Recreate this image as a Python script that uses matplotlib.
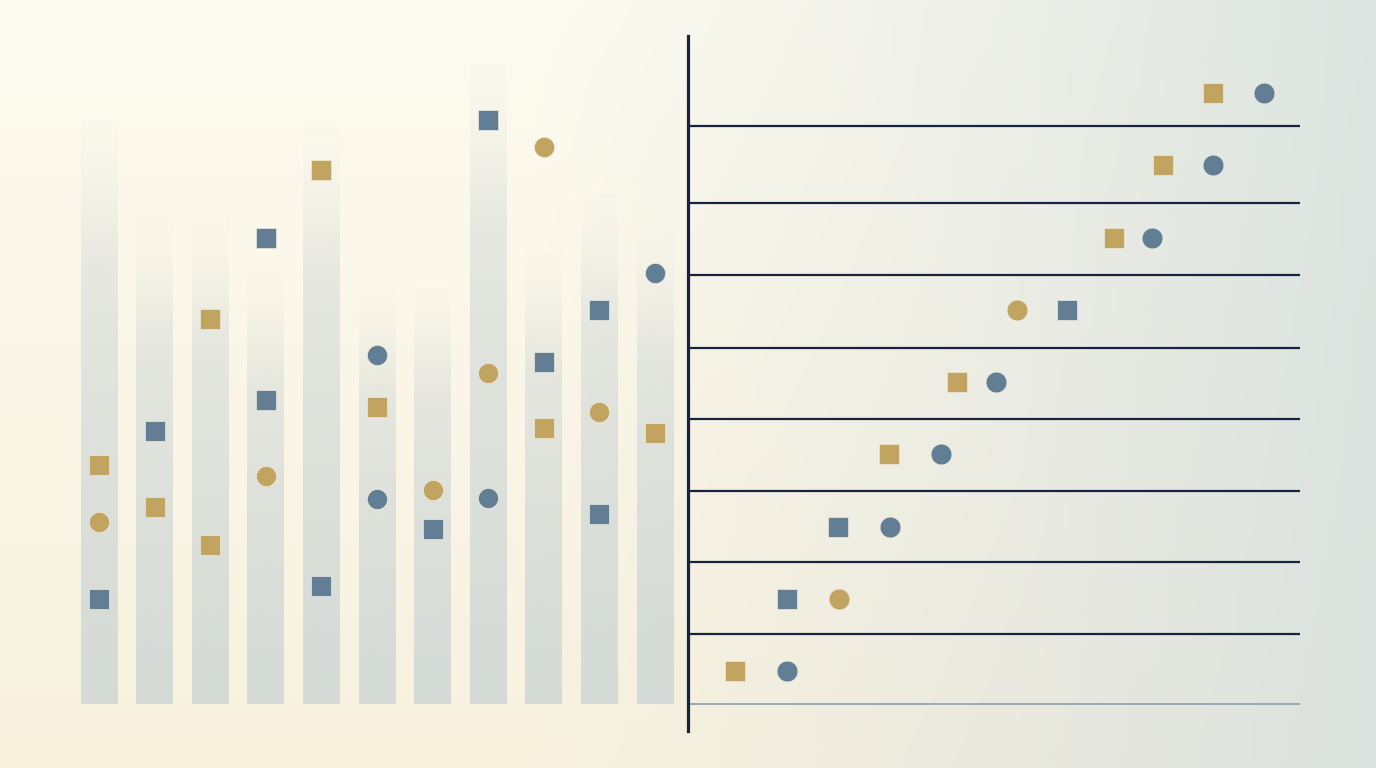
import numpy as np
import matplotlib
matplotlib.use("Agg")
import matplotlib.pyplot as plt

# ---------------- data ----------------
# Left panel: 11 faded columns with scattered markers
left_categories = list(range(11))
left_bar_heights = [88, 73.2, 73.3, 64.8, 86.9, 62.2, 62.8, 96.7, 68.1, 76.8, 70.6]

left_gold_square_cat = [0, 1, 2, 2, 4, 5, 8, 10]
left_gold_square_val = [36.0, 29.7, 58.0, 23.9, 80.4, 44.7, 41.6, 40.8]
left_gold_circle_cat = [0, 3, 6, 7, 8, 9]
left_gold_circle_val = [27.4, 34.3, 32.2, 49.8, 83.9, 44.0]
left_blue_square_cat = [0, 1, 3, 3, 4, 6, 7, 8, 9, 9]
left_blue_square_val = [15.8, 41.1, 70.2, 45.8, 17.8, 26.4, 88.0, 51.5, 59.3, 28.6]
left_blue_circle_cat = [5, 5, 7, 10]
left_blue_circle_val = [52.6, 30.9, 31.0, 64.9]

# Right panel: 9 rows (0 = bottom), two markers per row
right_rows = list(range(9))
right_separators = [0.51, 1.51, 2.49, 3.49, 4.47, 5.48, 6.48, 7.54]
right_baseline = -0.45
right_gold_square_row = [8, 7, 6, 4, 3, 0]
right_gold_square_val = [85.8, 77.6, 69.6, 44.0, 32.8, 7.7]
right_gold_circle_row = [5, 1]
right_gold_circle_val = [53.8, 24.7]
right_blue_square_row = [5, 2, 1]
right_blue_square_val = [61.9, 24.5, 16.2]
right_blue_circle_row = [8, 7, 6, 4, 3, 2, 0]
right_blue_circle_val = [94.1, 85.8, 75.8, 50.3, 41.3, 33.0, 16.2]

# ---------------- styles ----------------
GOLD = "#c2a461"
BLUE = "#627e94"
NAVY = "#18233f"
EDGE = "#eee9da"
W, H = 1376, 768

def fx(px):
    return px / W

def fy(py):
    return 1 - py / H

fig = plt.figure(figsize=(W / 100, H / 100), dpi=100)

# background gradient
bg = fig.add_axes([0, 0, 1, 1])
xs = np.linspace(0, 1, 400)
ys = np.linspace(0, 1, 240)
X, Y = np.meshgrid(xs, ys)
tl = np.array([253, 251, 240]) / 255
tr = np.array([221, 228, 225]) / 255
bl = np.array([248, 241, 222]) / 255
br = np.array([219, 225, 222]) / 255
tx = np.clip((X - 0.38) / 0.62, 0, 1) ** 1.2
top = tl[None, None, :] * (1 - tx[..., None]) + tr[None, None, :] * tx[..., None]
bot = bl[None, None, :] * (1 - tx[..., None]) + br[None, None, :] * tx[..., None]
img = top * (1 - Y[..., None]) + bot * Y[..., None]
bg.imshow(img, extent=[0, 1, 0, 1], aspect="auto", origin="upper", zorder=0)
bg.set_xlim(0, 1)
bg.set_ylim(0, 1)
bg.axis("off")

# ---------------- left panel ----------------
axL = fig.add_axes([fx(60), fy(704), fx(680) - fx(60), fy(40) - fy(704)])
axL.patch.set_alpha(0)
bars = axL.bar(left_categories, left_bar_heights, width=0.66,
               color="none", edgecolor="none", zorder=1)
bar_rgb = np.array([200, 210, 212]) / 255
n = 200
t = np.linspace(1, 0, n)  # top row first -> t=1 top
alpha = 0.72 - 0.45 * t ** 1.3
fade = np.clip((1 - t) / 0.3, 0, 1)
fade = fade * fade * (3 - 2 * fade)
alpha = alpha * (0.12 + 0.88 * fade)
grad = np.zeros((n, 2, 4))
grad[..., :3] = bar_rgb
grad[..., 3] = alpha[:, None]
for b in bars:
    x0 = b.get_x()
    x1 = x0 + b.get_width()
    h = b.get_height()
    im = axL.imshow(grad, extent=[x0, x1, 0, h], aspect="auto",
                    origin="upper", zorder=1, interpolation="bilinear")
    im.set_clip_path(b)

ms = 14.5
mk = dict(linestyle="none", markeredgecolor=EDGE, markeredgewidth=0.5, zorder=3)
axL.plot(left_gold_square_cat, left_gold_square_val, marker="s", ms=ms, color=GOLD, **mk)
axL.plot(left_gold_circle_cat, left_gold_circle_val, marker="o", ms=ms, color=GOLD, **mk)
axL.plot(left_blue_square_cat, left_blue_square_val, marker="s", ms=ms, color=BLUE, **mk)
axL.plot(left_blue_circle_cat, left_blue_circle_val, marker="o", ms=ms, color=BLUE, **mk)
axL.set_xlim(-0.70, 10.45)
axL.set_ylim(0, 100)
axL.axis("off")

# ---------------- right panel ----------------
axR = fig.add_axes([fx(688), fy(731), fx(1300) - fx(688), fy(36) - fy(731)])
axR.patch.set_alpha(0)
for yv in right_separators:
    axR.axhline(yv, color=NAVY, lw=1.6, zorder=1)
axR.axhline(right_baseline, color="#9ca8b6", lw=1.4, zorder=1)
ms2 = 15
axR.plot(right_gold_square_val, right_gold_square_row, marker="s", ms=ms2, color=GOLD, **mk)
axR.plot(right_gold_circle_val, right_gold_circle_row, marker="o", ms=ms2, color=GOLD, **mk)
axR.plot(right_blue_square_val, right_blue_square_row, marker="s", ms=ms2, color=BLUE, **mk)
axR.plot(right_blue_circle_val, right_blue_circle_row, marker="o", ms=ms2, color=BLUE, **mk)
axR.set_xlim(0, 100)
axR.set_ylim(-0.83, 8.79)
for s in ["top", "right", "bottom"]:
    axR.spines[s].set_visible(False)
axR.spines["left"].set_color(NAVY)
axR.spines["left"].set_linewidth(2.3)
axR.set_xticks([])
axR.set_yticks([])

fig.savefig("out.png", dpi=100)
